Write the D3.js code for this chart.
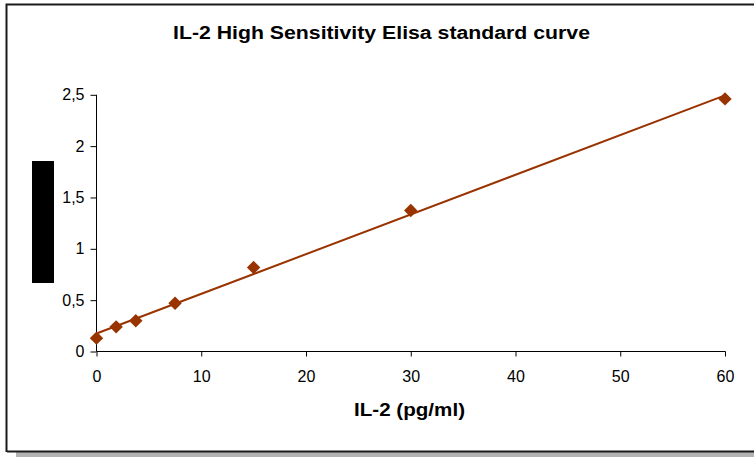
<!DOCTYPE html>
<html><head><meta charset="utf-8">
<script src="https://cdn.jsdelivr.net/npm/d3@7"></script>
<style>
body{margin:0;background:#fff;}
svg{display:block;}
text{font-family:"Liberation Sans Narrow","Liberation Sans",Arial,sans-serif;}
</style></head>
<body>
<svg id="c" width="754" height="457"></svg>
<script>
const concentrations = [0, 1.875, 3.75, 7.5, 15, 30, 60];
const absorbance = [0.13, 0.24, 0.30, 0.47, 0.818, 1.373, 2.46];
const xTicks = [0, 10, 20, 30, 40, 50, 60];
const yTicks = [0, 0.5, 1, 1.5, 2, 2.5];
const yTickLabels = ["0", "0,5", "1", "1,5", "2", "2,5"];
const titleText = "IL-2 High Sensitivity Elisa standard curve";
const xTitleText = "IL-2 (pg/ml)";

const svg = d3.select("#c");
const color = "#993300";

// frame and shadow
svg.append("rect").attr("x", 16).attr("y", 452).attr("width", 740).attr("height", 6).attr("fill", "#b3b3b3");
svg.append("path").attr("d", "M7,451.5 L760,451.5 M6.5,452 L6.5,4.5 L760,4.5")
  .attr("fill", "none").attr("stroke", "#1a1a1a").attr("stroke-width", 2);

const x = d3.scaleLinear().domain([0, 60]).range([96.5, 725]);
const y = d3.scaleLinear().domain([0, 2.5]).range([351.5, 94.8]);

// axes
const xAxis = d3.axisBottom(x).tickValues(xTicks).tickSize(5).tickPadding(20).tickFormat(d3.format("d"));
const gx = svg.append("g").attr("transform", "translate(0,351.5)").call(xAxis);
gx.select(".domain").attr("stroke", "#000").attr("d", "M96.5,0H725.5");
gx.selectAll(".tick line").attr("stroke", "#000");
gx.selectAll("text").attr("font-size", 16).attr("fill", "#000").attr("dy", "0.35em");

const yAxis = d3.axisLeft(y).tickValues(yTicks).tickSize(6).tickPadding(6)
  .tickFormat((d, i) => yTickLabels[i]);
const gy = svg.append("g").attr("transform", "translate(96.5,0)").call(yAxis);
gy.select(".domain").attr("stroke", "#000").attr("d", "M0,351.5V94.8");
gy.selectAll(".tick line").attr("stroke", "#000");
gy.selectAll("text").attr("font-size", 16).attr("fill", "#000");

// linear regression trend line
const n = concentrations.length;
const mx = d3.mean(concentrations), my = d3.mean(absorbance);
let sxy = 0, sxx = 0;
for (let i = 0; i < n; i++) { sxy += (concentrations[i]-mx)*(absorbance[i]-my); sxx += (concentrations[i]-mx)**2; }
const slope = sxy / sxx, intercept = my - slope * mx;
const xmin = d3.min(concentrations), xmax = d3.max(concentrations);
svg.append("line")
  .attr("x1", x(xmin)).attr("y1", y(intercept + slope * xmin))
  .attr("x2", x(xmax)).attr("y2", y(intercept + slope * xmax))
  .attr("stroke", color).attr("stroke-width", 2);

// markers (diamonds)
svg.selectAll(".pt").data(concentrations).enter().append("path")
  .attr("class", "pt")
  .attr("d", d3.symbol().type(d3.symbolSquare).size(90))
  .attr("transform", (d, i) => `translate(${x(d)},${y(absorbance[i])}) rotate(45)`)
  .attr("fill", color);

// title
svg.append("text").attr("x", 173).attr("y", 38.5)
  .attr("font-size", 17.5).attr("font-weight", "bold").attr("fill", "#000")
  .attr("font-family", "Liberation Sans, Arial, sans-serif")
  .attr("textLength", 417).attr("lengthAdjust", "spacingAndGlyphs")
  .text(titleText);

// x axis title
svg.append("text").attr("x", 354).attr("y", 416)
  .attr("font-size", 17.5).attr("font-weight", "bold").attr("fill", "#000")
  .attr("font-family", "Liberation Sans, Arial, sans-serif")
  .attr("textLength", 111).attr("lengthAdjust", "spacingAndGlyphs")
  .text(xTitleText);

// redacted y axis title block
svg.append("rect").attr("x", 32).attr("y", 161).attr("width", 22).attr("height", 122).attr("fill", "#000");
</script>
</body></html>
